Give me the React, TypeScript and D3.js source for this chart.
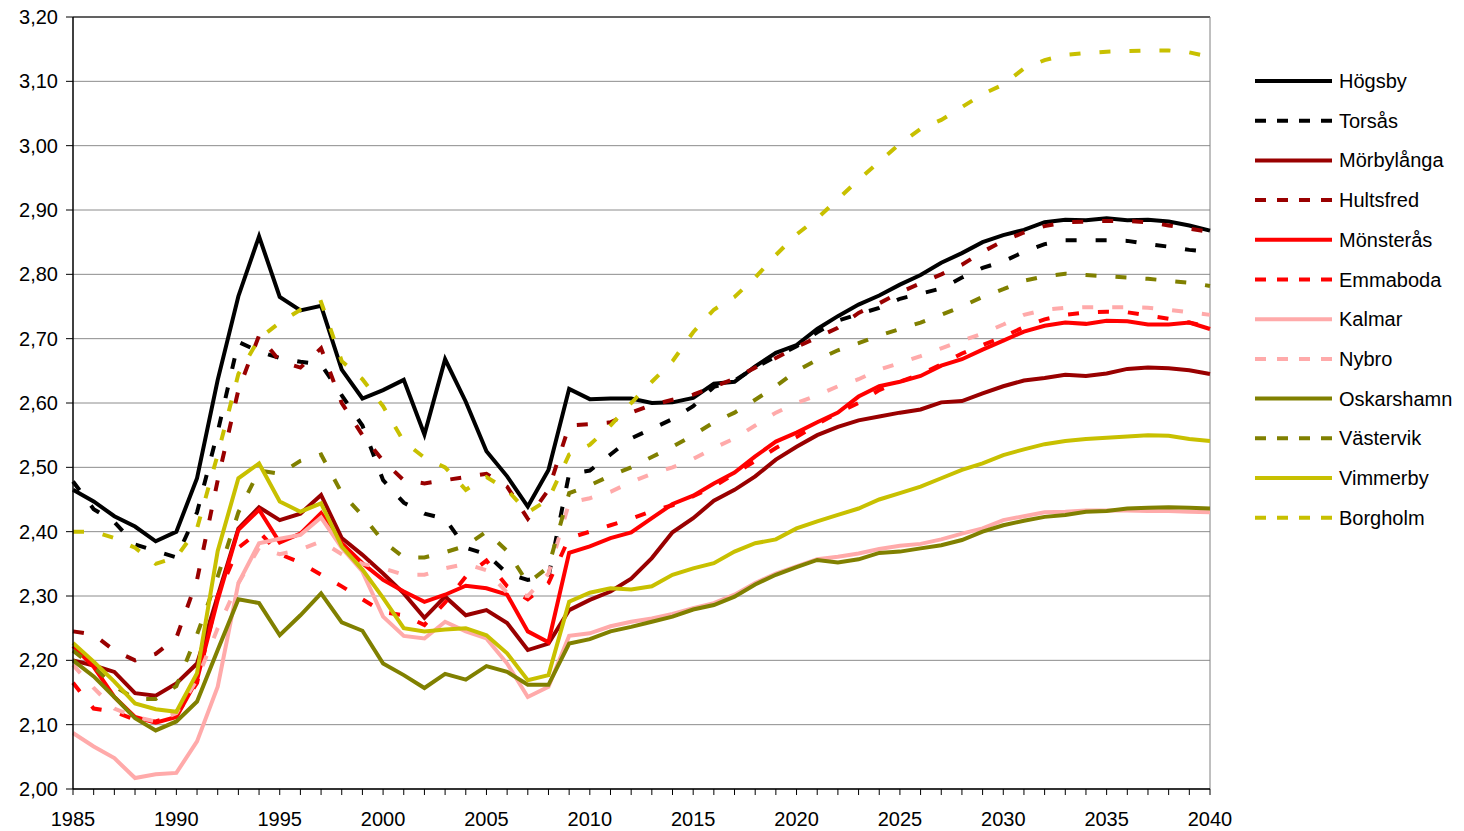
import React from 'react';
import * as d3 from 'd3';

const years: number[] = d3.range(1985, 2041);

const hogsby = [2.465,2.447,2.424,2.408,2.385,2.400,2.483,2.636,2.766,2.859,2.765,2.744,2.751,2.652,2.607,2.620,2.636,2.551,2.668,2.602,2.525,2.486,2.439,2.496,2.622,2.606,2.607,2.607,2.600,2.601,2.608,2.630,2.633,2.657,2.678,2.690,2.715,2.735,2.753,2.767,2.784,2.799,2.818,2.833,2.850,2.861,2.869,2.881,2.885,2.884,2.887,2.884,2.885,2.882,2.876,2.868];
const torsas = [2.478,2.435,2.415,2.380,2.370,2.360,2.430,2.555,2.695,2.680,2.670,2.664,2.660,2.612,2.565,2.480,2.445,2.428,2.420,2.375,2.365,2.335,2.325,2.330,2.490,2.495,2.520,2.545,2.560,2.575,2.595,2.625,2.635,2.655,2.672,2.688,2.710,2.728,2.738,2.748,2.762,2.770,2.778,2.795,2.810,2.820,2.835,2.847,2.853,2.853,2.853,2.852,2.847,2.843,2.838,2.835];
const morbylanga = [2.200,2.192,2.182,2.149,2.145,2.164,2.195,2.300,2.405,2.438,2.418,2.428,2.457,2.390,2.364,2.335,2.304,2.266,2.299,2.270,2.278,2.258,2.216,2.226,2.278,2.294,2.307,2.327,2.359,2.399,2.421,2.448,2.465,2.486,2.512,2.532,2.550,2.563,2.573,2.579,2.585,2.590,2.601,2.603,2.615,2.626,2.635,2.639,2.644,2.642,2.646,2.653,2.655,2.654,2.651,2.645];
const hultsfred = [2.245,2.240,2.215,2.200,2.210,2.235,2.325,2.480,2.620,2.705,2.665,2.655,2.685,2.600,2.550,2.510,2.480,2.475,2.480,2.485,2.490,2.470,2.420,2.465,2.565,2.567,2.570,2.585,2.597,2.605,2.613,2.625,2.638,2.655,2.670,2.687,2.702,2.717,2.740,2.755,2.772,2.786,2.800,2.815,2.835,2.852,2.865,2.875,2.881,2.882,2.883,2.883,2.881,2.876,2.871,2.866];
const monsteras = [2.222,2.190,2.143,2.112,2.103,2.112,2.170,2.294,2.403,2.434,2.383,2.397,2.429,2.382,2.351,2.325,2.307,2.291,2.302,2.316,2.312,2.302,2.245,2.228,2.367,2.377,2.390,2.399,2.421,2.443,2.456,2.475,2.492,2.517,2.540,2.554,2.570,2.585,2.610,2.626,2.633,2.642,2.658,2.668,2.683,2.697,2.711,2.720,2.725,2.723,2.728,2.727,2.722,2.722,2.725,2.715];
const emmaboda = [2.165,2.125,2.120,2.108,2.105,2.115,2.165,2.300,2.375,2.400,2.365,2.352,2.333,2.315,2.295,2.275,2.270,2.255,2.290,2.330,2.355,2.315,2.295,2.320,2.390,2.400,2.410,2.420,2.432,2.441,2.455,2.470,2.490,2.510,2.530,2.547,2.567,2.585,2.600,2.620,2.633,2.645,2.660,2.677,2.690,2.703,2.718,2.730,2.737,2.741,2.742,2.741,2.736,2.731,2.725,2.718];
const kalmar = [2.087,2.066,2.048,2.017,2.023,2.025,2.074,2.159,2.320,2.382,2.389,2.395,2.422,2.375,2.338,2.268,2.238,2.234,2.260,2.245,2.234,2.195,2.143,2.159,2.238,2.242,2.253,2.260,2.265,2.272,2.281,2.289,2.302,2.320,2.335,2.346,2.357,2.361,2.366,2.373,2.378,2.381,2.388,2.397,2.405,2.418,2.424,2.430,2.431,2.433,2.433,2.433,2.432,2.432,2.431,2.430];
const nybro = [2.193,2.157,2.125,2.112,2.105,2.118,2.170,2.250,2.320,2.375,2.365,2.372,2.385,2.365,2.350,2.343,2.333,2.333,2.343,2.350,2.340,2.305,2.300,2.335,2.445,2.452,2.462,2.477,2.490,2.500,2.513,2.530,2.545,2.565,2.585,2.600,2.612,2.626,2.637,2.652,2.662,2.673,2.685,2.697,2.708,2.722,2.737,2.745,2.748,2.749,2.749,2.749,2.748,2.745,2.741,2.737];
const oskarshamn = [2.200,2.175,2.143,2.110,2.091,2.105,2.136,2.216,2.295,2.289,2.239,2.270,2.304,2.259,2.246,2.195,2.177,2.157,2.179,2.170,2.191,2.182,2.162,2.162,2.226,2.233,2.245,2.252,2.260,2.268,2.279,2.286,2.299,2.318,2.333,2.345,2.356,2.352,2.357,2.367,2.369,2.374,2.379,2.387,2.400,2.410,2.417,2.423,2.426,2.431,2.432,2.436,2.437,2.438,2.437,2.436];
const vastervik = [2.215,2.190,2.160,2.140,2.140,2.160,2.240,2.330,2.430,2.495,2.490,2.510,2.520,2.460,2.425,2.385,2.360,2.360,2.368,2.378,2.400,2.370,2.320,2.345,2.460,2.472,2.487,2.500,2.516,2.532,2.550,2.570,2.585,2.605,2.626,2.650,2.667,2.682,2.693,2.705,2.715,2.725,2.737,2.750,2.765,2.777,2.790,2.797,2.801,2.799,2.797,2.795,2.793,2.790,2.787,2.782];
const vimmerby = [2.227,2.198,2.167,2.133,2.124,2.120,2.180,2.370,2.483,2.506,2.447,2.431,2.444,2.377,2.341,2.297,2.250,2.245,2.248,2.250,2.239,2.211,2.169,2.177,2.291,2.305,2.312,2.310,2.315,2.333,2.343,2.351,2.369,2.382,2.388,2.405,2.416,2.426,2.436,2.450,2.460,2.470,2.483,2.496,2.506,2.519,2.528,2.536,2.541,2.544,2.546,2.548,2.550,2.549,2.544,2.541];
const borgholm = [2.400,2.400,2.390,2.375,2.350,2.360,2.405,2.520,2.645,2.700,2.725,2.745,2.757,2.665,2.637,2.595,2.540,2.515,2.500,2.465,2.485,2.465,2.430,2.450,2.520,2.535,2.565,2.600,2.633,2.665,2.710,2.745,2.765,2.795,2.830,2.862,2.887,2.917,2.947,2.975,3.003,3.026,3.040,3.060,3.080,3.095,3.120,3.133,3.141,3.144,3.146,3.147,3.148,3.148,3.145,3.138];

const seriesNames = ['Högsby','Torsås','Mörbylånga','Hultsfred','Mönsterås','Emmaboda','Kalmar','Nybro','Oskarshamn','Västervik','Vimmerby','Borgholm'];
const seriesValues = [hogsby, torsas, morbylanga, hultsfred, monsteras, emmaboda, kalmar, nybro, oskarshamn, vastervik, vimmerby, borgholm];
const seriesColors = ['#000000','#000000','#990000','#990000','#FF0000','#FF0000','#FFAAAA','#FFAAAA','#808000','#808000','#C8C000','#C8C000'];
const seriesDashed = [false,true,false,true,false,true,false,true,false,true,false,true];

const yTicks = [2.0,2.1,2.2,2.3,2.4,2.5,2.6,2.7,2.8,2.9,3.0,3.1,3.2];
const xTickLabels = [1985,1990,1995,2000,2005,2010,2015,2020,2025,2030,2035,2040];

const W = 1464, H = 831;
const left = 73, right = 1210, top = 17, bottom = 789;
const FONT = 'Arial, "Liberation Sans", sans-serif';

export default function App() {
  React.useEffect(() => { document.body.style.margin = '0'; }, []);
  const x = d3.scaleLinear().domain([1985, 2040]).range([left, right]);
  const y = d3.scaleLinear().domain([2.0, 3.2]).range([bottom, top]);
  const fmt = (v: number) => d3.format('.2f')(v).replace('.', ',');
  const line = d3.line<number>().x((_, i) => x(years[i])).y(d => y(d));
  const legendX = 1255, legendTop = 81, legendStep = 39.7;

  return (
    <svg width={W} height={H} style={{ display: 'block', background: '#fff' }} fontFamily={FONT}>
      {yTicks.map(t => (
        <line key={'g' + t} x1={left} x2={right} y1={y(t)} y2={y(t)} stroke="#8c8c8c" strokeWidth={1} />
      ))}
      <line x1={left} x2={right} y1={top} y2={top} stroke="#000" strokeWidth={1} />
      <line x1={right} x2={right} y1={top} y2={bottom} stroke="#808080" strokeWidth={1} />
      {seriesValues.map((vals, i) => (
        <path key={seriesNames[i]} d={line(vals) || ''} fill="none" stroke={seriesColors[i]}
          strokeWidth={4} strokeDasharray={seriesDashed[i] ? '11 19' : undefined} strokeLinejoin="miter" />
      ))}
      <line x1={left} x2={left} y1={top} y2={bottom} stroke="#000" strokeWidth={1.5} />
      <line x1={left} x2={right} y1={bottom} y2={bottom} stroke="#000" strokeWidth={1.5} />
      {yTicks.map(t => (
        <g key={'yt' + t}>
          <line x1={left - 7} x2={left} y1={y(t)} y2={y(t)} stroke="#000" />
          <text x={left - 15} y={y(t)} dy="0.35em" textAnchor="end" fontSize={20}>{fmt(t)}</text>
        </g>
      ))}
      {years.map(yr => (
        <line key={'xt' + yr} x1={x(yr)} x2={x(yr)} y1={bottom} y2={bottom + 6} stroke="#000" />
      ))}
      {xTickLabels.map(yr => (
        <text key={'xl' + yr} x={x(yr)} y={bottom + 37} textAnchor="middle" fontSize={20}>{yr}</text>
      ))}
      {seriesNames.map((n, i) => {
        const ly = legendTop + i * legendStep;
        return (
          <g key={'lg' + n}>
            <line x1={legendX} x2={legendX + 77} y1={ly} y2={ly} stroke={seriesColors[i]} strokeWidth={4}
              strokeDasharray={seriesDashed[i] ? '11 11' : undefined} />
            <text x={legendX + 84} y={ly} dy="0.35em" fontSize={20}>{n}</text>
          </g>
        );
      })}
    </svg>
  );
}
